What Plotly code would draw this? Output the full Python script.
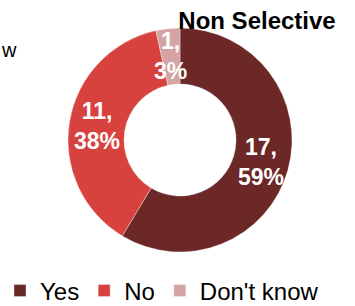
import math
import plotly.graph_objects as go

categories = ["Yes", "No", "Don't know"]
counts = [17, 11, 1]
colors = ["#6B2826", "#D8423E", "#D4A3A3"]
chart_title = "Non Selective"
stray_text = "w"

W, H = 355, 306
cx, cy = 180, 140   # donut centre in px (from top-left)
R = 112             # outer radius px
hole = 0.5
FONT = "Liberation Sans, Arial, sans-serif"

dom_x = [(cx - R) / W, (cx + R) / W]
dom_y = [1 - (cy + R) / H, 1 - (cy - R) / H]

fig = go.Figure(go.Pie(
    labels=categories, values=counts, hole=hole, sort=False,
    direction="clockwise", rotation=0,
    marker=dict(colors=colors, line=dict(color="rgba(255,255,255,0.35)", width=1)),
    textinfo="none", hoverinfo="skip", domain=dict(x=dom_x, y=dom_y),
))

# data labels placed at the middle of each ring segment, computed from the data
total = sum(counts)
cum = 0
r_mid = R * (1 + hole) / 2
annotations = []
for c in counts:
    mid = (cum + c / 2) / total * 2 * math.pi
    cum += c
    px = cx + r_mid * math.sin(mid)
    py = cy - r_mid * math.cos(mid)
    pct = round(100 * c / total)
    annotations.append(dict(
        x=px / W, y=1 - py / H, xref="paper", yref="paper",
        text=f"<b>{c},<br>{pct}%</b>", showarrow=False,
        font=dict(family=FONT, size=23, color="white"),
        xanchor="center", yanchor="middle", align="center",
    ))

annotations.append(dict(
    x=19 / W, y=1 - 50 / H, xref="paper", yref="paper", text=stray_text,
    showarrow=False, xanchor="right", yanchor="middle",
    font=dict(family=FONT, size=20, color="black"),
))

fig.update_layout(
    width=W, height=H, margin=dict(l=0, r=0, t=0, b=0, autoexpand=False),
    paper_bgcolor="white", plot_bgcolor="white",
    title=dict(text=f"<b>{chart_title}</b>", x=257 / W, y=1 - 21 / H,
               xanchor="center", yanchor="middle",
               font=dict(family=FONT, size=24, color="black")),
    showlegend=True,
    legend=dict(orientation="h", x=0, xanchor="left", y=1 - 291 / H,
                yanchor="middle", font=dict(family=FONT, size=24, color="black"),
                itemwidth=30, traceorder="normal"),
    annotations=annotations,
)

fig.write_html("out.html", config={"displayModeBar": False},
               post_script="document.body.style.margin='0px';")
